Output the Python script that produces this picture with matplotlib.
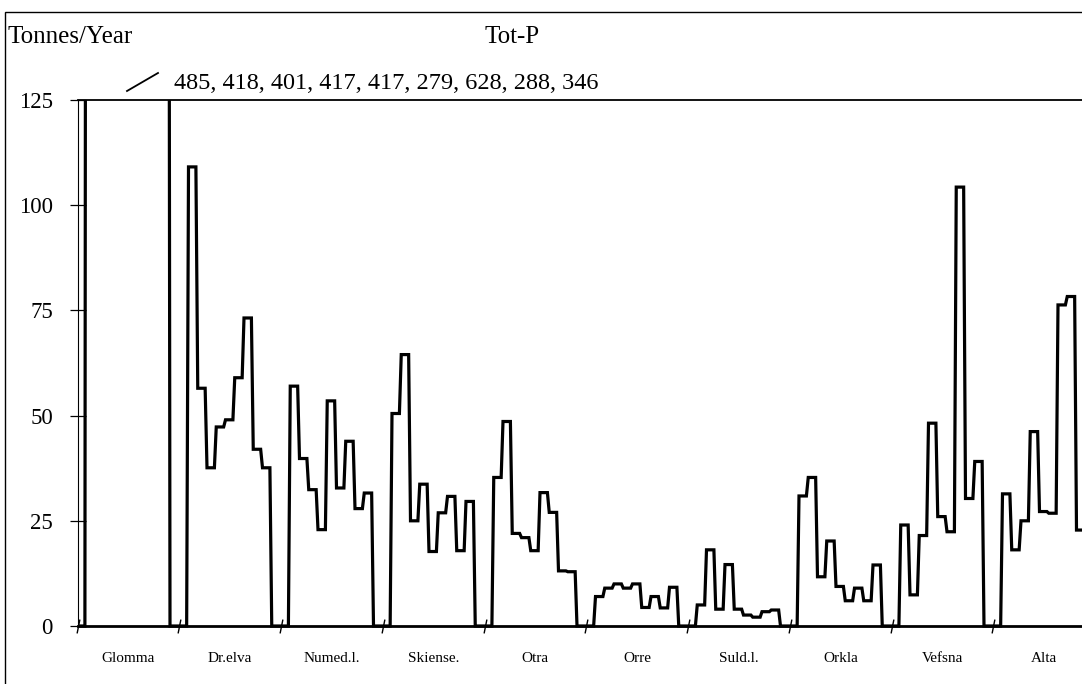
import matplotlib
matplotlib.use("Agg")
import matplotlib.pyplot as plt
from matplotlib.path import Path
from matplotlib.patches import Rectangle
from matplotlib.lines import Line2D
import numpy as np

plt.rcParams['font.family'] = ['Liberation Serif', 'DejaVu Serif']

# ---- data -------------------------------------------------------------
rivers = ["Glomma", "Dr.elva", "Numed.l.", "Skiense.", "Otra",
          "Orre", "Suld.l.", "Orkla", "Vefsna", "Alta"]

glomma = [485, 418, 401, 417, 417, 279, 628, 288, 346]
drelva = [109.1, 56.5, 37.6, 47.3, 49.0, 59.0, 73.2, 42.0, 37.6]
numedal = [57.0, 39.8, 32.4, 22.9, 53.5, 32.8, 43.9, 27.9, 31.6]
skiens = [50.5, 64.5, 25.0, 33.7, 17.7, 26.9, 30.8, 17.9, 29.6]
otra = [35.3, 48.6, 22.0, 21.0, 17.9, 31.7, 27.0, 13.1, 12.9]
orre = [7.0, 9.0, 10.0, 9.0, 10.0, 4.4, 7.0, 4.3, 9.2]
suldal = [5.0, 18.1, 4.0, 14.6, 4.0, 2.6, 2.1, 3.4, 3.8]
orkla = [30.9, 35.3, 11.7, 20.2, 9.4, 6.0, 9.0, 6.0, 14.5]
vefsna = [24.0, 7.4, 21.5, 48.2, 26.0, 22.4, 104.3, 30.3, 39.1]
alta = [31.4, 18.1, 25.0, 46.2, 27.2, 26.8, 76.3, 78.3, 22.8]

series = [glomma, drelva, numedal, skiens, otra, orre, suldal, orkla, vefsna, alta]

y_ticks = [0, 25, 50, 75, 100, 125]
glomma_note = ", ".join(str(v) for v in glomma)

# ---- build stepped line ---------------------------------------------
nslot = 11          # leading zero, 9 values, trailing zero
hold = 0.8          # fraction of a slot the value is held
xs, ys = [], []
for i, vals in enumerate(series):
    slots = [0] + list(vals) + [0]
    for k, v in enumerate(slots):
        left = i + k / nslot
        xs += [left, left + hold / nslot]
        ys += [v, v]

# ---- figure -----------------------------------------------------------
W, H = 1082, 684
fig = plt.figure(figsize=(W / 100, H / 100), dpi=100)
ax = fig.add_axes([77.5 / W, 58 / H, (1095 - 77.5) / W, 526 / H])

line, = ax.plot(xs, ys, color='black', lw=2.3, solid_joinstyle='miter')
clip = Rectangle((0, -6), len(rivers) + 1, 131, transform=ax.transData)
line.set_clip_path(clip)

ax.set_xlim(0, len(rivers))
ax.set_ylim(0, 125)

ax.spines['right'].set_visible(False)
ax.spines['left'].set_linewidth(0.8)
ax.spines['top'].set_linewidth(1.3)
ax.spines['bottom'].set_linewidth(2.0)

ax.set_yticks(y_ticks)
ax.set_yticklabels([str(v) for v in y_ticks], fontsize=16.5)
ax.tick_params(axis='y', direction='inout', length=11.5, width=0.9, pad=12)

# slanted break-like ticks at river boundaries
ax.set_xticks(np.arange(len(rivers) + 1))
ax.set_xticklabels([])
slant = Path([(-0.1, -0.5), (0.1, 0.5)], [Path.MOVETO, Path.LINETO])
ax.tick_params(axis='x', which='major', width=1.0)
for t in ax.xaxis.get_major_ticks():
    t.tick1line.set_marker(slant)
    t.tick1line.set_markersize(10)
    t.tick1line.set_markeredgewidth(1.0)

ax.set_xticks(np.arange(len(rivers)) + 0.5, minor=True)
ax.set_xticklabels(rivers, minor=True, fontsize=11)
ax.tick_params(axis='x', which='minor', length=0, pad=19)

# ---- texts --------------------------------------------------------------
fig.text(8 / W, 1 - 43 / H, "Tonnes/Year", fontsize=18, ha='left', va='baseline')
fig.text(512 / W, 1 - 43 / H, "Tot-P", fontsize=18, ha='center', va='baseline')
fig.text(174 / W, 1 - 89 / H, glomma_note, fontsize=17.5, ha='left', va='baseline')
fig.add_artist(Line2D([127 / W, 158 / W], [1 - 91 / H, 1 - 73 / H],
                      color='black', lw=1.3))

# outer frame (extends past the right/bottom edges)
fig.add_artist(Rectangle((5 / W, -0.1), 1.2, 1.1 - 12 / H, fill=False,
                         lw=1.0, edgecolor='black', transform=fig.transFigure))

fig.savefig("out.png", dpi=100)
